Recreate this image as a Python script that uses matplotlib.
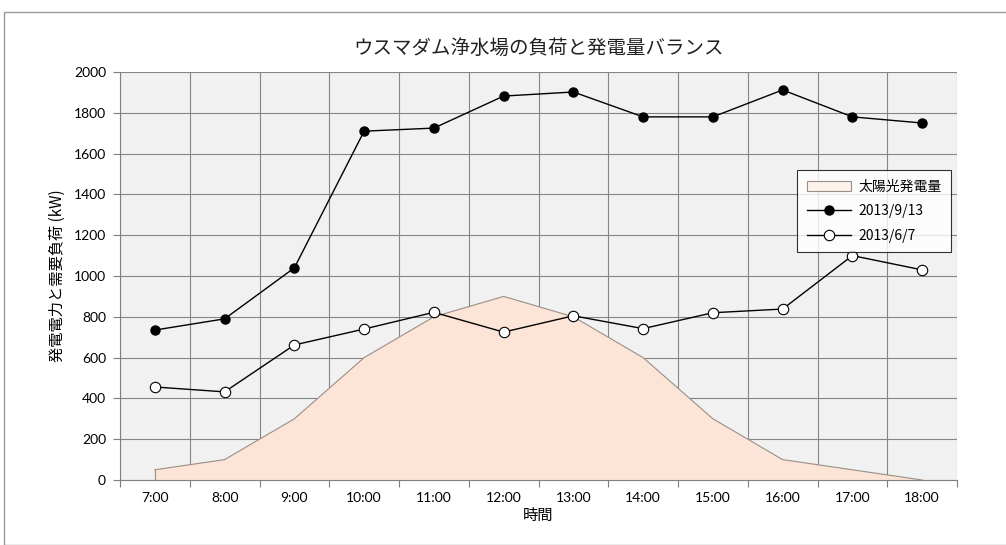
import matplotlib
matplotlib.use("Agg")
import matplotlib.pyplot as plt
import numpy as np
from matplotlib.patches import Rectangle

plt.rcParams['font.family'] = ['Noto Sans CJK JP', 'DejaVu Sans']

times = ["7:00", "8:00", "9:00", "10:00", "11:00", "12:00", "13:00",
         "14:00", "15:00", "16:00", "17:00", "18:00"]
solar = [50, 100, 300, 600, 800, 900, 800, 600, 300, 100, 50, 0]
load_0913 = [735, 790, 1040, 1710, 1725, 1882, 1902, 1780, 1780, 1912, 1780, 1750]
load_0607 = [456, 432, 662, 740, 822, 725, 805, 742, 820, 838, 1100, 1030]
yticks = list(range(0, 2001, 200))

fig = plt.figure(figsize=(10.06, 5.45), dpi=100)
fig.patch.set_facecolor('white')
fig.add_artist(Rectangle((4/1006, 0.0), 1.0, 1 - 12/545, transform=fig.transFigure,
                         fill=False, edgecolor='#999999', linewidth=1.0))

ax = fig.add_axes([120/1006, 1 - 480/545, (957-120)/1006, (480-72)/545])
ax.set_facecolor('#F1F1F1')
x = np.arange(len(times))

ax.set_xlim(-0.5, len(times) - 0.5)
ax.set_ylim(0, 2000)

# grid
for yv in yticks:
    ax.axhline(yv, color='#858585', linewidth=0.8, zorder=1)
for xv in np.arange(-0.5, len(times), 1.0):
    ax.axvline(xv, color='#858585', linewidth=0.8, zorder=1)

ax.fill_between(x, solar, 0, facecolor='#FCE4D6', edgecolor='none', zorder=2,
                label='太陽光発電量')
ax.plot(x, solar, color='#9A8F88', linewidth=0.8, zorder=2.5)
ax.plot([x[0], x[0]], [0, solar[0]], color='#9A8F88', linewidth=0.8, zorder=2.5)

ax.plot(x, load_0913, color='black', linewidth=1.0, marker='o', markersize=6.5,
        markerfacecolor='black', markeredgecolor='black', zorder=4, label='2013/9/13')
ax.plot(x, load_0607, color='black', linewidth=1.0, marker='o', markersize=7.5,
        markerfacecolor='white', markeredgecolor='black', markeredgewidth=0.8,
        zorder=4, label='2013/6/7')

ax.set_yticks(yticks)
ax.set_yticklabels([str(v) for v in yticks], family=['Lato', 'Noto Sans CJK JP'], fontsize=10)
ax.set_xticks(np.arange(-0.5, len(times), 1.0), minor=False)
ax.set_xticklabels([])
ax.set_xticks(x, minor=True)
ax.set_xticklabels(times, minor=True, family=['Lato', 'Noto Sans CJK JP'], fontsize=10)
ax.tick_params(axis='x', which='minor', length=0, pad=9)
ax.tick_params(axis='x', which='major', length=5, color='#7F7F7F', direction='out')
ax.tick_params(axis='y', length=5, color='#7F7F7F', direction='out', pad=5)

for s in ['top', 'right']:
    ax.spines[s].set_visible(False)
for s in ['left', 'bottom']:
    ax.spines[s].set_color('#7F7F7F')
    ax.spines[s].set_linewidth(0.8)

ax.set_xlabel('時間', fontsize=11, labelpad=2)
ax.set_ylabel('発電電力と需要負荷 (kW)', fontsize=11, labelpad=6)
fig.text((120+957)/2/1006, 1 - 48/545, 'ウスマダム浄水場の負荷と発電量バランス',
         ha='center', va='center', fontsize=14, color='#222222')

leg = ax.legend(loc='upper left', bbox_to_anchor=((797-120)/837, (480-170)/408),
                borderaxespad=0, frameon=True, fancybox=False, edgecolor='black',
                fontsize=10, borderpad=0.7, labelspacing=0.75, handlelength=3.2,
                handletextpad=0.5)
leg.get_frame().set_linewidth(0.8)
leg.set_zorder(10)
leg.legend_handles[0].set_edgecolor('#9A8F88')
leg.legend_handles[0].set_facecolor('#FDF3EC')
leg.legend_handles[0].set_linewidth(0.8)

fig.savefig('out.png', dpi=100)
